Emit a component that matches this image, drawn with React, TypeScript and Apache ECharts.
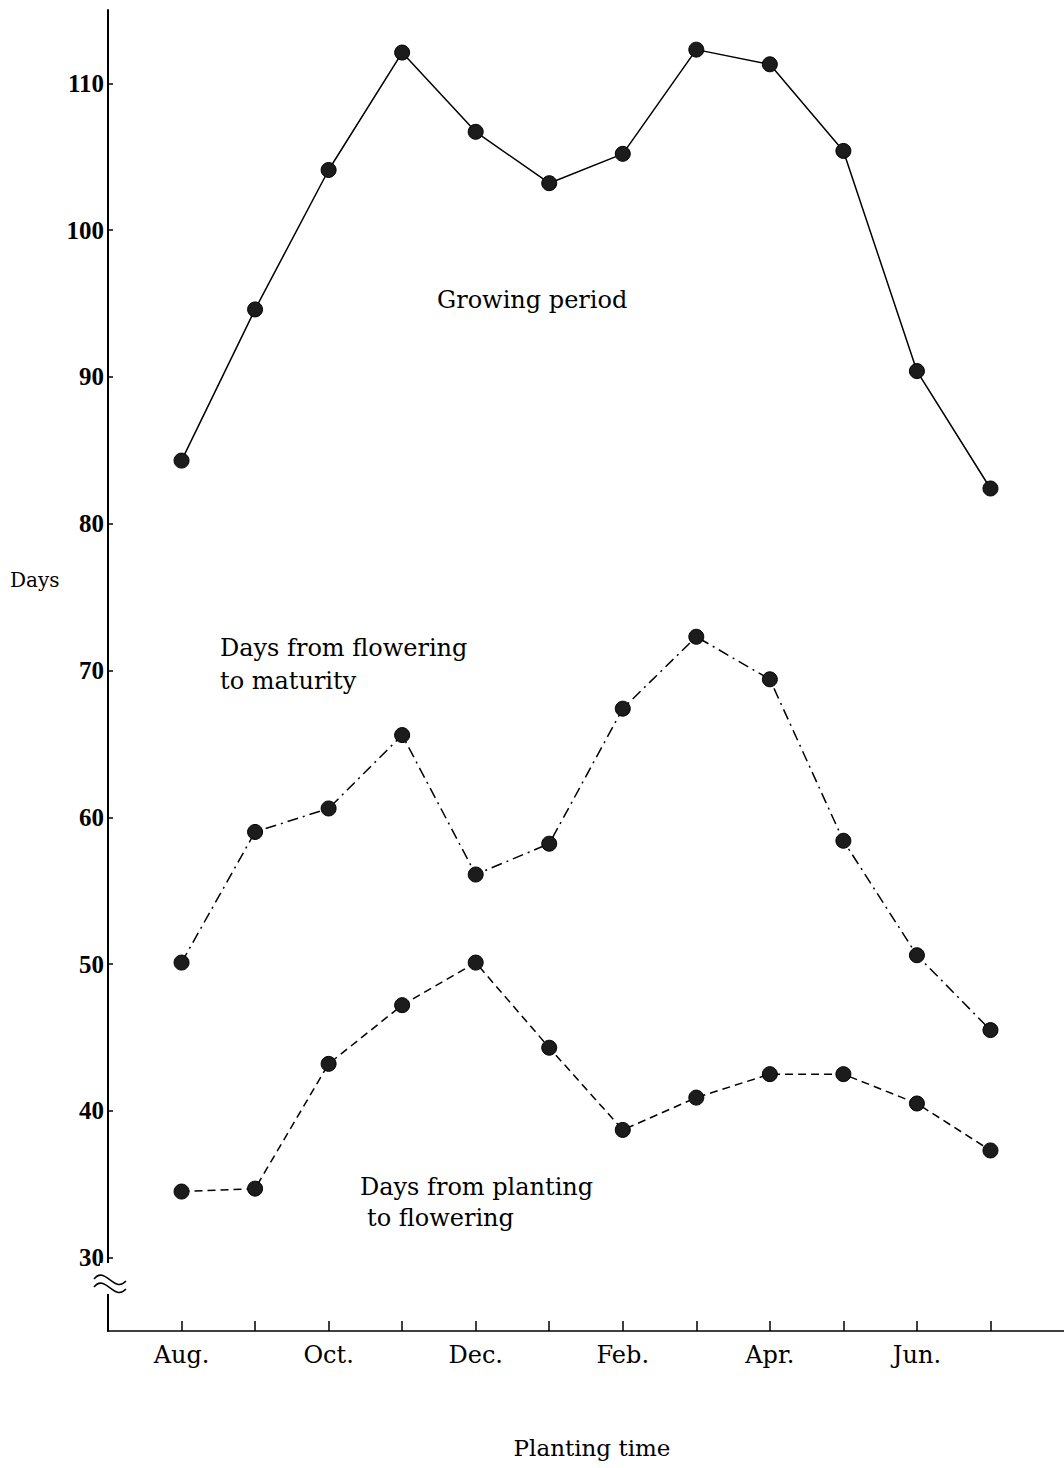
import React, { useEffect, useRef } from "react";
import * as echarts from "echarts";

// Planting months (index 0 = August ... 11 = July)
const months = ["Aug.", "Sep.", "Oct.", "Nov.", "Dec.", "Jan.", "Feb.", "Mar.", "Apr.", "May", "Jun.", "Jul."];
const monthLabels = ["Aug.", "", "Oct.", "", "Dec.", "", "Feb.", "", "Apr.", "", "Jun.", ""];
const yTicks = [30, 40, 50, 60, 70, 80, 90, 100, 110];

const growingPeriod = [84.3, 94.6, 104.1, 112.1, 106.7, 103.2, 105.2, 112.3, 111.3, 105.4, 90.4, 82.4];
const floweringToMaturity = [50.1, 59.0, 60.6, 65.6, 56.1, 58.2, 67.4, 72.3, 69.4, 58.4, 50.6, 45.5];
const plantingToFlowering = [34.5, 34.7, 43.2, 47.2, 50.1, 44.3, 38.7, 40.9, 42.5, 42.5, 40.5, 37.3];

const SERIF = "'DejaVu Serif', serif";
const NUM = "'Liberation Serif', serif";

const GRID_LEFT = 108;
const GRID_TOP = 10;
const GRID_BOTTOM = 137;

export default function App() {
  const ref = useRef<HTMLDivElement>(null);

  useEffect(() => {
    if (!ref.current) return;
    const chart = echarts.init(ref.current, null, { renderer: "svg" });
    const toPts = (arr: number[]) => arr.map((v, i) => [i, v]);
    const marker = {
      symbol: "circle",
      symbolSize: 15,
      itemStyle: { color: "#1c1c1c", borderColor: "#000", borderWidth: 1 },
    };
    chart.setOption({
      animation: false,
      backgroundColor: "#ffffff",
      grid: { left: GRID_LEFT, right: 0, top: GRID_TOP, bottom: GRID_BOTTOM, containLabel: false },
      xAxis: {
        type: "value",
        min: -1,
        max: 12,
        interval: 1,
        splitLine: { show: false },
        axisLine: { show: true, onZero: false, lineStyle: { color: "#000", width: 1.5 } },
        axisTick: {
          show: true,
          inside: true,
          length: 10,
          lineStyle: { color: "#000", width: 1.5 },
          customValues: months.map((_, i) => i),
        },
        axisLabel: {
          show: true,
          customValues: months.map((_, i) => i),
          formatter: (v: number) => monthLabels[Math.round(v)] ?? "",
          color: "#000",
          fontFamily: SERIF,
          fontSize: 24,
          margin: 12,
        },
      },
      yAxis: {
        type: "value",
        min: 25,
        max: 115,
        splitLine: { show: false },
        axisLine: { show: true, onZero: false, lineStyle: { color: "#000", width: 2 } },
        axisTick: {
          show: true,
          inside: true,
          length: 5,
          lineStyle: { color: "#000", width: 1.5 },
          customValues: yTicks,
        },
        axisLabel: {
          show: true,
          customValues: yTicks,
          color: "#000",
          fontFamily: NUM,
          fontSize: 25,
          fontWeight: "bold",
          margin: 4,
        },
      },
      series: [
        {
          name: "Growing period",
          type: "line",
          data: toPts(growingPeriod),
          lineStyle: { color: "#000", width: 1.5, type: "solid" },
          ...marker,
          z: 3,
        },
        {
          name: "Days from flowering to maturity",
          type: "line",
          data: toPts(floweringToMaturity),
          lineStyle: { color: "#000", width: 1.5, type: [11, 5, 2, 5] },
          ...marker,
          z: 3,
        },
        {
          name: "Days from planting to flowering",
          type: "line",
          data: toPts(plantingToFlowering),
          lineStyle: { color: "#000", width: 1.5, type: [8, 5] },
          ...marker,
          z: 3,
        },
      ],
      graphic: [
        // axis break
        { type: "rect", shape: { x: 100, y: 1263, width: 16, height: 31 }, style: { fill: "#fff" }, z: 10 },
        {
          type: "bezierCurve",
          shape: { x1: 94, y1: 1279, x2: 126, y2: 1281, cpx1: 105, cpy1: 1265, cpx2: 114, cpy2: 1294 },
          style: { stroke: "#000", lineWidth: 1.6, fill: null },
          z: 11,
        },
        {
          type: "bezierCurve",
          shape: { x1: 94, y1: 1287, x2: 126, y2: 1289, cpx1: 105, cpy1: 1273, cpx2: 114, cpy2: 1302 },
          style: { stroke: "#000", lineWidth: 1.6, fill: null },
          z: 11,
        },
        // annotations
        {
          type: "text", x: 437, y: 300, z: 12,
          style: { text: "Growing period", fill: "#000", font: `24px ${SERIF}`, verticalAlign: "middle" },
        },
        {
          type: "text", x: 220, y: 648, z: 12,
          style: { text: "Days from flowering", fill: "#000", font: `24px ${SERIF}`, verticalAlign: "middle" },
        },
        {
          type: "text", x: 220, y: 681, z: 12,
          style: { text: "to maturity", fill: "#000", font: `24px ${SERIF}`, verticalAlign: "middle" },
        },
        {
          type: "text", x: 360, y: 1187, z: 12,
          style: { text: "Days from planting", fill: "#000", font: `24px ${SERIF}`, verticalAlign: "middle" },
        },
        {
          type: "text", x: 367, y: 1218, z: 12,
          style: { text: "to flowering", fill: "#000", font: `24px ${SERIF}`, verticalAlign: "middle" },
        },
        {
          type: "text", x: 10, y: 580, z: 12,
          style: { text: "Days", fill: "#000", font: `20px ${SERIF}`, verticalAlign: "middle" },
        },
        {
          type: "text", x: 592, y: 1448, z: 12,
          style: { text: "Planting time", fill: "#000", font: `23px ${SERIF}`, align: "center", verticalAlign: "middle" },
        },
      ],
    });
    return () => chart.dispose();
  }, []);

  return (
    <div
      ref={ref}
      style={{ position: "absolute", left: 0, top: 0, width: 1064, height: 1468, background: "#fff" }}
    />
  );
}
